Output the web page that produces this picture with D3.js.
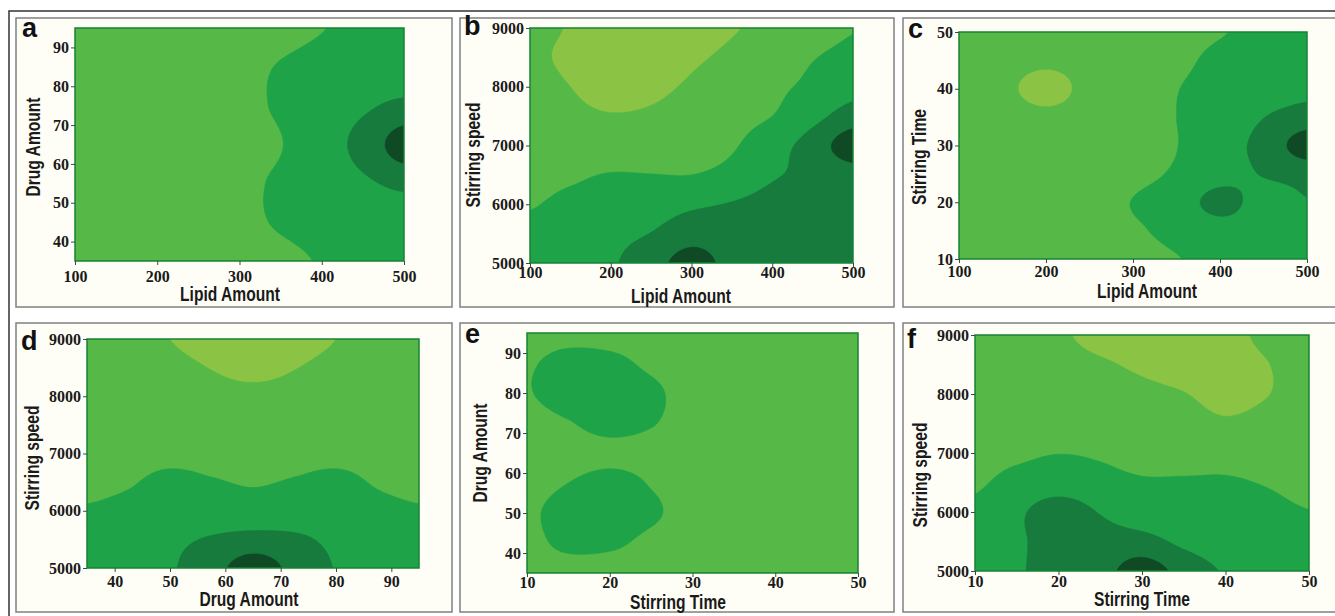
<!DOCTYPE html>
<html>
<head>
<meta charset="utf-8">
<script src="https://cdn.jsdelivr.net/npm/d3@7"></script>
<style>
body { margin: 0; background: #fff; }
.tick text { font-family: "Liberation Serif", "Times New Roman", serif; font-weight: bold; font-size: 16px; fill: #1a1a1a; }
.tick line { stroke: #444; }
.title { font-family: "Liberation Sans", Arial, sans-serif; font-weight: bold; font-size: 20px; fill: #1a1a1a; }
.letter { font-family: "Liberation Sans", Arial, sans-serif; font-weight: bold; font-size: 27px; fill: #111; }
</style>
</head>
<body>
<svg id="chart" width="1335" height="616"></svg>
<script>
// factor levels (grid rows are listed top to bottom)
var lipidLevels = [100, 150, 200, 250, 300, 350, 400, 450, 500];
var drugLevelsA = [95, 85, 75, 65, 55, 45, 35];
var speedLevels = [9000, 8500, 8000, 7500, 7000, 6500, 6000, 5500, 5000];
var timeLevelsC = [50, 45, 40, 35, 30, 25, 20, 15, 10];
var drugLevelsD = [35, 42.5, 50, 57.5, 65, 72.5, 80, 87.5, 95];
var drugLevelsE = [95, 87.5, 80, 72.5, 65, 57.5, 50, 42.5, 35];
var timeLevels = [10, 15, 20, 25, 30, 35, 40, 45, 50];

// tick labels
var lipidTicks = [100, 200, 300, 400, 500];
var drugTicks = [40, 50, 60, 70, 80, 90];
var speedTicks = [5000, 6000, 7000, 8000, 9000];
var timeTicks = [10, 20, 30, 40, 50];

// response (contour band index)
var zLipidDrug = [
  [1.2, 1.25, 1.3, 1.4, 1.5, 1.7, 1.97, 2.2, 2.3],
  [1.25, 1.3, 1.4, 1.5, 1.75, 2.05, 2.3, 2.45, 2.45],
  [1.3, 1.4, 1.5, 1.6, 1.8, 2.1, 2.5, 2.85, 3.2],
  [1.3, 1.4, 1.5, 1.6, 1.75, 1.97, 2.6, 3.3, 4.5],
  [1.3, 1.4, 1.5, 1.6, 1.82, 2.12, 2.5, 2.85, 3.2],
  [1.3, 1.4, 1.5, 1.6, 1.8, 2.08, 2.3, 2.45, 2.5],
  [1.2, 1.3, 1.4, 1.5, 1.6, 1.8, 2.05, 2.2, 2.3]
];
var zLipidSpeed = [
  [1.2, 0.95, 0.7, 0.7, 0.8, 0.95, 1.2, 1.5, 1.95],
  [1.15, 0.85, 0.65, 0.7, 0.9, 1.15, 1.55, 1.95, 2.3],
  [1.3, 1.0, 0.8, 0.85, 1.1, 1.45, 1.8, 2.2, 2.7],
  [1.4, 1.15, 1.03, 1.1, 1.35, 1.7, 2.0, 2.7, 3.4],
  [1.55, 1.4, 1.3, 1.4, 1.6, 1.9, 2.6, 3.4, 4.6],
  [1.75, 1.85, 2.05, 2.02, 2.0, 2.3, 2.9, 3.2, 3.5],
  [1.95, 2.2, 2.4, 2.6, 2.85, 3.05, 3.3, 3.4, 3.45],
  [2.2, 2.4, 2.75, 3.02, 3.5, 3.4, 3.45, 3.5, 3.5],
  [2.3, 2.5, 2.9, 3.5, 4.5, 3.6, 3.5, 3.5, 3.5]
];
var zLipidTime = [
  [1.4, 1.35, 1.3, 1.4, 1.5, 1.7, 1.95, 2.2, 2.35],
  [1.4, 1.3, 1.15, 1.3, 1.5, 1.8, 2.2, 2.4, 2.5],
  [1.4, 1.2, 0.7, 1.25, 1.55, 1.97, 2.3, 2.5, 2.75],
  [1.4, 1.35, 1.2, 1.35, 1.6, 2.0, 2.4, 2.98, 3.4],
  [1.4, 1.4, 1.4, 1.45, 1.65, 1.98, 2.6, 3.3, 4.5],
  [1.4, 1.45, 1.5, 1.6, 1.8, 2.1, 2.6, 3.05, 3.3],
  [1.45, 1.5, 1.6, 1.75, 2.02, 2.4, 3.35, 2.6, 2.95],
  [1.45, 1.5, 1.6, 1.7, 1.9, 2.2, 2.5, 2.55, 2.6],
  [1.4, 1.45, 1.5, 1.6, 1.75, 1.97, 2.2, 2.3, 2.35]
];
var zDrugSpeed = [
  [1.5, 1.3, 1.0, 0.75, 0.65, 0.75, 1.0, 1.3, 1.5],
  [1.5, 1.4, 1.2, 0.98, 0.85, 0.98, 1.2, 1.4, 1.5],
  [1.5, 1.45, 1.35, 1.2, 1.15, 1.2, 1.35, 1.45, 1.5],
  [1.6, 1.55, 1.5, 1.45, 1.45, 1.45, 1.5, 1.55, 1.6],
  [1.7, 1.75, 1.8, 1.75, 1.7, 1.75, 1.8, 1.75, 1.7],
  [1.85, 1.95, 2.15, 2.05, 1.95, 2.05, 2.15, 1.95, 1.85],
  [2.05, 2.15, 2.25, 2.3, 2.3, 2.3, 2.25, 2.15, 2.05],
  [2.25, 2.4, 2.75, 3.1, 3.35, 3.2, 2.75, 2.4, 2.25],
  [2.3, 2.5, 2.9, 3.6, 4.5, 3.7, 2.95, 2.5, 2.3]
];
var zTimeDrug = [
  [1.6, 1.7, 1.7, 1.6, 1.5, 1.5, 1.5, 1.5, 1.5],
  [1.9, 2.3, 2.2, 1.85, 1.6, 1.5, 1.5, 1.5, 1.5],
  [1.95, 2.4, 2.45, 2.15, 1.7, 1.55, 1.5, 1.5, 1.5],
  [1.7, 1.95, 2.3, 2.05, 1.7, 1.55, 1.5, 1.5, 1.5],
  [1.6, 1.65, 1.75, 1.7, 1.6, 1.5, 1.5, 1.5, 1.5],
  [1.7, 2.0, 2.3, 1.95, 1.65, 1.5, 1.5, 1.5, 1.5],
  [1.85, 2.35, 2.45, 2.12, 1.7, 1.55, 1.5, 1.5, 1.5],
  [1.75, 2.2, 2.15, 1.8, 1.6, 1.5, 1.5, 1.5, 1.5],
  [1.55, 1.6, 1.6, 1.55, 1.5, 1.5, 1.5, 1.5, 1.5]
];
var zTimeSpeed = [
  [1.5, 1.35, 1.1, 0.8, 0.7, 0.7, 0.8, 1.15, 1.4],
  [1.5, 1.4, 1.25, 1.08, 0.9, 0.78, 0.75, 0.98, 1.3],
  [1.55, 1.5, 1.4, 1.3, 1.15, 1.02, 0.8, 0.98, 1.3],
  [1.6, 1.55, 1.5, 1.45, 1.4, 1.3, 1.1, 1.25, 1.4],
  [1.75, 1.85, 1.98, 1.9, 1.75, 1.7, 1.7, 1.65, 1.6],
  [1.9, 2.25, 2.45, 2.25, 2.08, 2.08, 2.08, 1.95, 1.75],
  [2.15, 2.8, 3.5, 2.95, 2.55, 2.45, 2.35, 2.2, 2.02],
  [2.3, 2.85, 3.35, 3.3, 3.3, 2.8, 2.45, 2.3, 2.2],
  [2.4, 2.9, 3.3, 3.6, 4.5, 3.6, 2.9, 2.5, 2.3]
];

var bandThresholds = [1, 2, 3, 4];
var bandColors = ["#8bc445", "#56b847", "#1fa349", "#167b3d", "#0f4a25"];

// layout of the six panels
var panels = [
  {letter: "a", box: [16, 18, 436, 289], plot: [75, 28, 404, 261], letterPos: [22, 37],
   xs: lipidLevels, ys: drugLevelsA, z: zLipidDrug, xTicks: lipidTicks, yTicks: drugTicks,
   xTitle: "Lipid Amount", yTitle: "Drug Amount", xGap: 10, xTitlePos: [230, 301], yTitlePos: [40, 147]},
  {letter: "b", box: [460, 18, 434, 289], plot: [530, 28, 853, 263], letterPos: [464, 35],
   xs: lipidLevels, ys: speedLevels, z: zLipidSpeed, xTicks: lipidTicks, yTicks: speedTicks,
   xTitle: "Lipid Amount", yTitle: "Stirring speed", xGap: 4, xTitlePos: [681, 303], yTitlePos: [480, 155]},
  {letter: "c", box: [903, 18, 440, 289], plot: [959, 32, 1307, 259], letterPos: [908, 38],
   xs: lipidLevels, ys: timeLevelsC, z: zLipidTime, xTicks: lipidTicks, yTicks: timeTicks,
   xTitle: "Lipid Amount", yTitle: "Stirring Time", xGap: 7, xTitlePos: [1147, 298], yTitlePos: [926, 157]},
  {letter: "d", box: [16, 323, 436, 289], plot: [87, 339, 419, 568], letterPos: [21, 350],
   xs: drugLevelsD, ys: speedLevels, z: zDrugSpeed, xTicks: drugTicks, yTicks: speedTicks,
   xTitle: "Drug Amount", yTitle: "Stirring speed", xGap: 8, xTitlePos: [249, 606], yTitlePos: [39, 458]},
  {letter: "e", box: [460, 323, 434, 289], plot: [527, 333, 858, 573], letterPos: [465, 343],
   xs: timeLevels, ys: drugLevelsE, z: zTimeDrug, xTicks: timeTicks, yTicks: drugTicks,
   xTitle: "Stirring Time", yTitle: "Drug Amount", xGap: 4, xTitlePos: [678, 609], yTitlePos: [487, 453]},
  {letter: "f", box: [903, 323, 440, 289], plot: [975, 335, 1309, 571], letterPos: [907, 348],
   xs: timeLevels, ys: speedLevels, z: zTimeSpeed, xTicks: timeTicks, yTicks: speedTicks,
   xTitle: "Stirring Time", yTitle: "Stirring speed", xGap: 5, xTitlePos: [1142, 606], yTitlePos: [927, 475]}
];

var svg = d3.select("#chart");

// outer frame
svg.append("path")
  .attr("d", "M9,616 V11 H1335")
  .attr("fill", "none")
  .attr("stroke", "#333")
  .attr("stroke-width", 1.5);

// catmull-rom upsampling so the contour bands come out smooth
function cr(p0, p1, p2, p3, t) {
  return 0.5 * (2 * p1 + (-p0 + p2) * t + (2 * p0 - 5 * p1 + 4 * p2 - p3) * t * t + (-p0 + 3 * p1 - 3 * p2 + p3) * t * t * t);
}
function upsample(grid, k) {
  var ny = grid.length, nx = grid[0].length;
  var W = (nx - 1) * k + 1, H = (ny - 1) * k + 1;
  var out = new Array(W * H);
  function at(i, j) {
    i = Math.max(0, Math.min(nx - 1, i));
    j = Math.max(0, Math.min(ny - 1, j));
    return grid[j][i];
  }
  for (var j = 0; j < H; j++) {
    var gy = j / k, jy = Math.min(Math.floor(gy), ny - 2), ty = gy - jy;
    for (var i = 0; i < W; i++) {
      var gx = i / k, ix = Math.min(Math.floor(gx), nx - 2), tx = gx - ix;
      var r = [];
      for (var m = -1; m <= 2; m++) {
        r.push(cr(at(ix - 1, jy + m), at(ix, jy + m), at(ix + 1, jy + m), at(ix + 2, jy + m), tx));
      }
      out[j * W + i] = cr(r[0], r[1], r[2], r[3], ty);
    }
  }
  return {values: out, W: W, H: H};
}

panels.forEach(function(p, pi) {
  var g = svg.append("g");

  g.append("rect")
    .attr("x", p.box[0]).attr("y", p.box[1])
    .attr("width", p.box[2]).attr("height", p.box[3])
    .attr("fill", "#fffef6")
    .attr("stroke", "#808080")
    .attr("stroke-width", 1.5);

  var x0 = p.plot[0], y0 = p.plot[1], x1 = p.plot[2], y1 = p.plot[3];
  var xScale = d3.scaleLinear().domain(d3.extent(p.xs)).range([x0, x1]);
  var yScale = d3.scaleLinear().domain(d3.extent(p.ys)).range([y1, y0]);

  var k = 20;
  var fine = upsample(p.z, k);
  var gx = d3.scaleLinear().domain([0.5, fine.W - 0.5]).range([p.xs[0], p.xs[p.xs.length - 1]]);
  var gy = d3.scaleLinear().domain([0.5, fine.H - 0.5]).range([p.ys[0], p.ys[p.ys.length - 1]]);

  var proj = d3.geoTransform({
    point: function(x, y) { this.stream.point(xScale(gx(x)), yScale(gy(y))); }
  });
  var path = d3.geoPath(proj);

  var contours = d3.contours()
    .size([fine.W, fine.H])
    .thresholds([-100].concat(bandThresholds))(fine.values);

  var clipId = "clip" + pi;
  g.append("clipPath").attr("id", clipId)
    .append("rect")
    .attr("x", x0).attr("y", y0)
    .attr("width", x1 - x0).attr("height", y1 - y0);

  g.append("g")
    .attr("clip-path", "url(#" + clipId + ")")
    .selectAll("path")
    .data(contours)
    .enter().append("path")
    .attr("d", path)
    .attr("fill", function(d, i) { return bandColors[i]; })
    .attr("stroke", function(d, i) { return bandColors[i]; })
    .attr("stroke-width", 0.6);

  g.append("rect")
    .attr("x", x0).attr("y", y0)
    .attr("width", x1 - x0).attr("height", y1 - y0)
    .attr("fill", "none")
    .attr("stroke", "#168236")
    .attr("stroke-width", 1.5);

  var xAxis = g.append("g")
    .attr("transform", "translate(0," + y1 + ")")
    .call(d3.axisBottom(xScale).tickValues(p.xTicks).tickSize(4)
      .tickPadding(Math.max(0, p.xGap - 4)).tickFormat(d3.format("d")));
  xAxis.select(".domain").remove();

  var yAxis = g.append("g")
    .attr("transform", "translate(" + x0 + ",0)")
    .call(d3.axisLeft(yScale).tickValues(p.yTicks).tickSize(4).tickPadding(2).tickFormat(d3.format("d")));
  yAxis.select(".domain").remove();

  // titles are squeezed horizontally to get the narrow bold look
  g.append("text")
    .attr("class", "title")
    .attr("transform", "translate(" + p.xTitlePos[0] + "," + p.xTitlePos[1] + ") scale(0.78,1)")
    .attr("text-anchor", "middle")
    .text(p.xTitle);

  g.append("text")
    .attr("class", "title")
    .attr("transform", "translate(" + p.yTitlePos[0] + "," + p.yTitlePos[1] + ") rotate(-90) scale(0.78,1)")
    .attr("text-anchor", "middle")
    .text(p.yTitle);

  g.append("text")
    .attr("class", "letter")
    .attr("x", p.letterPos[0]).attr("y", p.letterPos[1])
    .text(p.letter);
});
</script>
</body>
</html>
